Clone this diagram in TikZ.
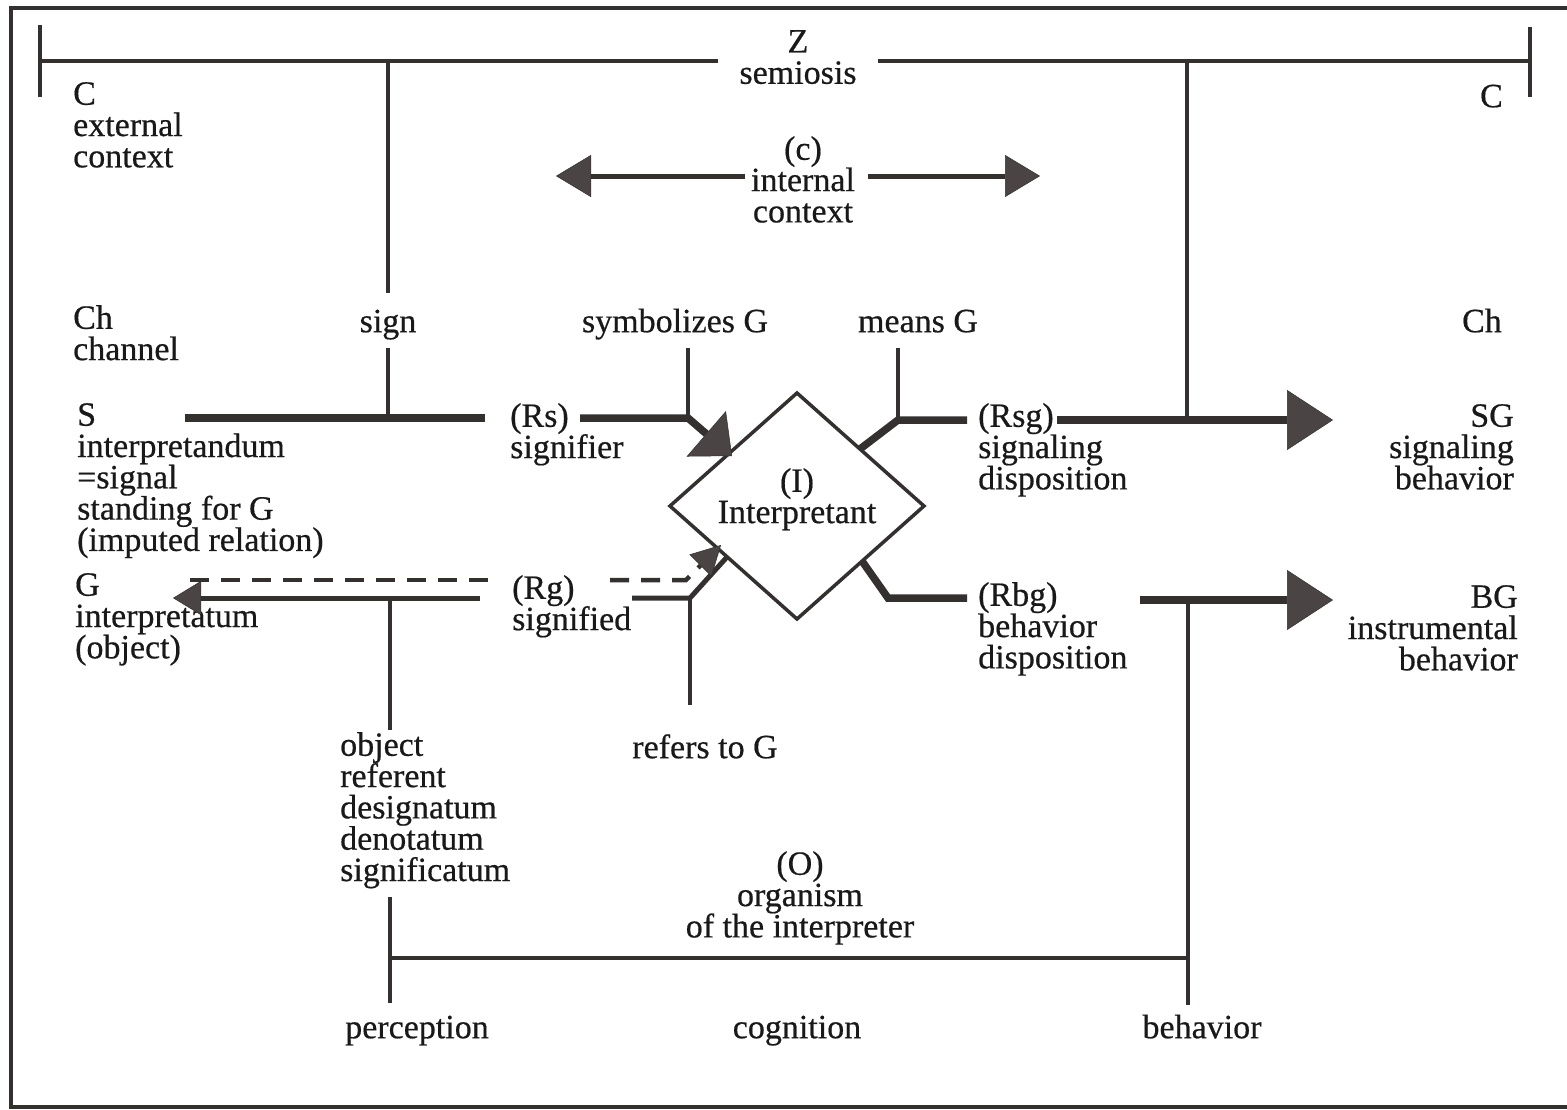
\documentclass[tikz,border=0pt]{standalone}
\usepackage{fontspec}
\setmainfont{Liberation Serif}
\usetikzlibrary{arrows.meta}
\definecolor{ink}{RGB}{52,48,48}
\definecolor{headfill}{RGB}{74,68,68}
\begin{document}
\begin{tikzpicture}[x=1pt,y=-1pt,
  txt/.style={inner sep=0pt, font=\fontsize{34}{31.3}\selectfont\addfontfeatures{FakeBold=0.5}, text=black!90,
              execute at begin node={\rule{0pt}{25pt}}},
  lft/.style={txt, align=left, anchor=north west},
  rgt/.style={txt, align=right, anchor=north east},
  ctr/.style={txt, align=center, anchor=north},
  frameline/.style={draw=ink, line width=3.5pt},
  thinline/.style={draw=ink, line width=3.2pt},
  tick/.style={draw=ink, line width=4.5pt},
  medline/.style={draw=ink, line width=5pt},
  heavyline/.style={draw=ink, line width=7.5pt, line join=miter},
  dashline/.style={draw=ink, line width=4.5pt, dash pattern=on 19pt off 12pt},
  bighead/.style={-{Triangle[length=46pt,width=60pt,line width=0.5pt,fill=headfill]}},
  sidehead/.style={-{Triangle[length=35pt,width=42pt,line width=0.5pt,fill=headfill]}},
  rshead/.style={-{Triangle[length=34pt,width=60pt,line width=0.5pt,fill=headfill]}},
  rghead/.style={-{Triangle[length=29pt,width=31pt,line width=0.5pt,fill=headfill]}},
  ghead/.style={-{Triangle[length=28pt,width=34pt,line width=0.5pt,fill=headfill]}}
]
\useasboundingbox (0,0) rectangle (1567,1109);
\fill[white] (0,0) rectangle (1567,1109);

% outer frame
\coordinate (fTR) at (1567,8);
\coordinate (fTL) at (11,8);
\coordinate (fBL) at (11,1107);
\coordinate (fBR) at (1567,1107);
\draw[frameline] (fTR) -- (fTL) -- (fBL) -- (fBR);

% ---------------- text ----------------
\node[ctr] (zlab) at (798,30) {Z\\semiosis};
\node[lft] (cext) at (73,82) {C\\external\\context};
\node[rgt] (cright) at (1503,82) {C};
\node[ctr] (intctx) at (803,136) {(c)\\internal\\context};
\node[lft] (chL) at (73,305) {Ch\\channel};
\node[ctr] (sign) at (388,307) {sign};
\node[ctr] (symb) at (675,307) {symbolizes G};
\node[ctr] (means) at (918,307) {means G};
\node[rgt] (chR) at (1502,307) {Ch};
\node[lft] (sblk) at (77,403) {S\\interpretandum\\=signal\\standing for G\\(imputed relation)};
\node[lft] (rs) at (510,403) {(Rs)\\signifier};
\node[lft] (rsg) at (978,403) {(Rsg)\\signaling\\disposition};
\node[rgt] (sg) at (1514,404) {SG\\signaling\\behavior};
\node[lft] (gblk) at (75,573) {G\\interpretatum\\(object)};
\node[lft] (rg) at (512,575) {(Rg)\\signified};
\node[lft] (rbg) at (978,582) {(Rbg)\\behavior\\disposition};
\node[rgt] (bg) at (1518,585) {BG\\instrumental\\behavior};
\node[lft] (obj) at (340,732) {object\\referent\\designatum\\denotatum\\significatum};
\node[ctr] (refers) at (705,733) {refers to G};
\node[ctr] (org) at (800,851) {(O)\\organism\\of the interpreter};
\node[ctr] (perc) at (417,1013) {perception};
\node[ctr] (cogn) at (797,1013) {cognition};
\node[ctr] (behav) at (1202,1013) {behavior};

% ---------------- semiosis bracket ----------------
\coordinate (zL) at (40,61);
\coordinate (zR) at (1530,61);
\coordinate (zgapL) at (718,61);
\coordinate (zgapR) at (878,61);
\coordinate (zLt) at (40,25);
\coordinate (zLb) at (40,97);
\coordinate (zRt) at (1530,27);
\coordinate (zRb) at (1530,97);
\draw[thinline] (zL) -- (zgapL);
\draw[thinline] (zgapR) -- (zR);
\draw[tick] (zLt) -- (zLb);
\draw[tick] (zRt) -- (zRb);

% drops from the bracket
\coordinate (jSignTop) at (388,61);
\coordinate (signUp) at (388,293);
\coordinate (jSgTop) at (1187,61);
\coordinate (jSg) at (1187,420);
\draw[thinline] (jSignTop) -- (signUp);
\draw[thinline] (jSgTop) -- (jSg);

% ---------------- internal context ----------------
\coordinate (icL) at (745,176);
\coordinate (icLtip) at (556,176);
\coordinate (icR) at (868,176);
\coordinate (icRtip) at (1040,176);
\draw[medline, sidehead] (icL) -- (icLtip);
\draw[medline, sidehead] (icR) -- (icRtip);

% ---------------- interpretant ----------------
\coordinate (dT) at (797,393);
\coordinate (dR) at (924,506);
\coordinate (dB) at (797,619);
\coordinate (dL) at (670,506);
\draw[draw=ink, line width=3.5pt, line join=miter] (dT) -- (dR) -- (dB) -- (dL) -- cycle;
\node[ctr] (interp) at (797,468) {(I)\\Interpretant};

% ---------------- sign / signifier ----------------
\coordinate (signDown) at (388,348);
\coordinate (jSign) at (388,418);
\coordinate (sA) at (185,418);
\coordinate (sB) at (485,418);
\draw[thinline] (signDown) -- (jSign);
\draw[heavyline] (sA) -- (sB);

\coordinate (rsA) at (580,418);
\coordinate (jSymb) at (688,418);
\coordinate (symbDown) at (688,348);
\coordinate (rsTip) at (732,456);
\draw[thinline] (symbDown) -- (jSymb);
\draw[heavyline, rshead] (rsA) -- (jSymb) -- (rsTip);

% ---------------- signaling disposition ----------------
\coordinate (dUR) at (860,449);
\coordinate (jMeans) at (898,420);
\coordinate (meansDown) at (898,348);
\coordinate (rsgA) at (967,420);
\draw[thinline] (meansDown) -- (jMeans);
\draw[heavyline] (dUR) -- (jMeans) -- (rsgA);

\coordinate (rsgB) at (1057,420);
\coordinate (rsgTip) at (1333,420);
\draw[heavyline, bighead] (rsgB) -- (rsgTip);

% ---------------- behavior disposition ----------------
\coordinate (dLR) at (862,561);
\coordinate (jRbg) at (888,598);
\coordinate (rbgA) at (967,598);
\draw[heavyline] (dLR) -- (jRbg) -- (rbgA);

\coordinate (rbgB) at (1140,600);
\coordinate (rbgTip) at (1333,600);
\coordinate (jBeh) at (1188,600);
\draw[heavyline, bighead] (rbgB) -- (rbgTip);

% ---------------- signified / interpretatum ----------------
\coordinate (rgA) at (632,598);
\coordinate (jRef) at (690,598);
\coordinate (dLL) at (727,557);
\coordinate (refDown) at (690,705);
\draw[medline] (rgA) -- (jRef) -- (dLL);
\draw[thinline] (jRef) -- (refDown);

\coordinate (gB) at (480,598);
\coordinate (gTip) at (173,598);
\coordinate (jObj) at (390,598);
\coordinate (objDown) at (390,730);
\draw[medline, ghead] (gB) -- (gTip);
\draw[thinline] (jObj) -- (objDown);

% imputed relation
\coordinate (imA) at (190,580);
\coordinate (imB) at (488,580);
\coordinate (imC) at (610,580);
\coordinate (imD) at (686,580);
\coordinate (imTip) at (721,545);
\draw[dashline] (imA) -- (imB);
\draw[dashline, rghead] (imC) -- (imD) -- (imTip);

% ---------------- organism ----------------
\coordinate (percUp) at (390,897);
\coordinate (percDown) at (390,1003);
\coordinate (jPerc) at (390,958);
\coordinate (jBehLow) at (1188,958);
\coordinate (behDown) at (1188,1005);
\draw[thinline] (percUp) -- (percDown);
\draw[thinline] (jPerc) -- (jBehLow);
\draw[thinline] (jBeh) -- (behDown);
\end{tikzpicture}
\end{document}
